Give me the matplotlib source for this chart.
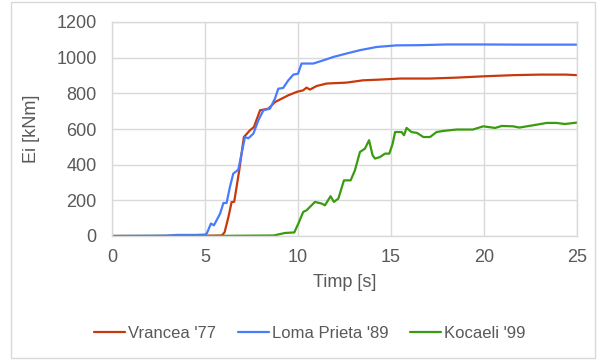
import matplotlib
matplotlib.use('Agg')
import matplotlib.pyplot as plt
from matplotlib.patches import Rectangle

plt.rcParams['font.family'] = ['Liberation Sans', 'DejaVu Sans']

# --- DATA ---
t_vrancea = [0, 2, 4, 5.5, 5.9, 6.05, 6.26, 6.43, 6.57, 6.84, 7.09, 7.42, 7.63, 7.96, 8.41,
             8.76, 9.12, 9.48, 9.93, 10.28, 10.46, 10.64, 11.0, 11.54, 12.6, 13.5, 14.4,
             15.5, 17.1, 18.5, 20.1, 21.6, 23.0, 24.4, 25]
e_vrancea = [0, 0, 1, 2, 3, 20, 107, 190, 192, 368, 555, 593, 611, 705, 714,
             751, 770, 789, 808, 817, 832, 821, 841, 855, 860, 873, 877,
             883, 883, 888, 896, 902, 905, 905, 902]

t_loma = [0, 2.9, 3.5, 4.5, 5.0, 5.1, 5.32, 5.48, 5.81, 5.99, 6.16, 6.34, 6.52, 6.79, 7.15,
          7.33, 7.6, 7.87, 8.14, 8.49, 8.76, 8.94, 9.2, 9.48, 9.75, 10.0, 10.19, 10.82,
          11.36, 11.9, 12.6, 13.33, 14.23, 15.3, 16.5, 18.0, 20.0, 22.0, 25]
e_loma = [0, 2, 6, 6, 8, 15, 70, 60, 125, 185, 185, 275, 350, 372, 555,
          548, 574, 649, 705, 714, 770, 826, 830, 873, 905, 910, 967, 967,
          985, 1004, 1023, 1042, 1060, 1069, 1070, 1074, 1074, 1073, 1073]

t_kocaeli = [0, 5, 8.7, 9.3, 9.8, 10.02, 10.28, 10.46, 10.91, 11.27, 11.45, 11.75, 11.93,
             12.17, 12.47, 12.83, 13.06, 13.33, 13.6, 13.82, 14.01, 14.14, 14.41, 14.68,
             14.91, 15.09, 15.22, 15.57, 15.7, 15.84, 16.1, 16.4, 16.74, 17.1, 17.45,
             17.8, 18.53, 19.4, 19.96, 20.6, 20.95, 21.57, 21.9, 22.65, 23.37, 23.9,
             24.35, 25]
e_kocaeli = [0, 0, 3, 17, 20, 70, 135, 144, 191, 182, 172, 223, 191,
             210, 312, 312, 368, 471, 490, 537, 453, 434, 443, 462,
             462, 518, 583, 583, 565, 606, 583, 578, 555, 555, 583,
             589, 597, 597, 615, 606, 617, 615, 608, 621, 634, 634,
             628, 636]

series = [
    ("Vrancea '77", t_vrancea, e_vrancea, '#C8380A'),
    ("Loma Prieta '89", t_loma, e_loma, '#4A7BFF'),
    ("Kocaeli '99", t_kocaeli, e_kocaeli, '#3A9A10'),
]

x_ticks = [0, 5, 10, 15, 20, 25]
y_ticks = [0, 200, 400, 600, 800, 1000, 1200]

FS = 13
W, H = 597, 360
fig = plt.figure(figsize=(W / 100, H / 100), dpi=100)
ax = fig.add_axes([112 / W, 1 - 236 / H, (577 - 112) / W, (236 - 22) / H])

# outer border of the chart area
fig.patches.append(Rectangle((11 / W, 2 / H), (595 - 11) / W, (358 - 2) / H,
                             transform=fig.transFigure, fill=False,
                             edgecolor='#d9d9d9', linewidth=1))

for label, t, e, c in series:
    ax.plot(t, e, color=c, linewidth=1.6, label=label, solid_capstyle='round')

ax.set_xlim(0, 25)
ax.set_ylim(0, 1200)
ax.set_xticks(x_ticks)
ax.set_yticks(y_ticks)
ax.grid(True, color='#d9d9d9', linewidth=1)
ax.set_axisbelow(True)
for s in ax.spines.values():
    s.set_color('#d9d9d9')
    s.set_linewidth(1)
ax.tick_params(length=0, labelsize=FS, labelcolor='#595959', pad=11)
ax.tick_params(axis='x', pad=9)

ax.set_xlabel('Timp [s]', fontsize=FS, color='#595959', labelpad=6)
ax.set_ylabel('Ei [kNm]', fontsize=FS, color='#595959', labelpad=12)

ax.legend(loc='center', bbox_to_anchor=(310 / W, 1 - 333 / H), bbox_transform=fig.transFigure,
          ncol=3, frameon=False, fontsize=12, labelcolor='#595959',
          handlelength=1.85, handletextpad=0.2, columnspacing=1.3)

fig.savefig('out.png', dpi=100)
